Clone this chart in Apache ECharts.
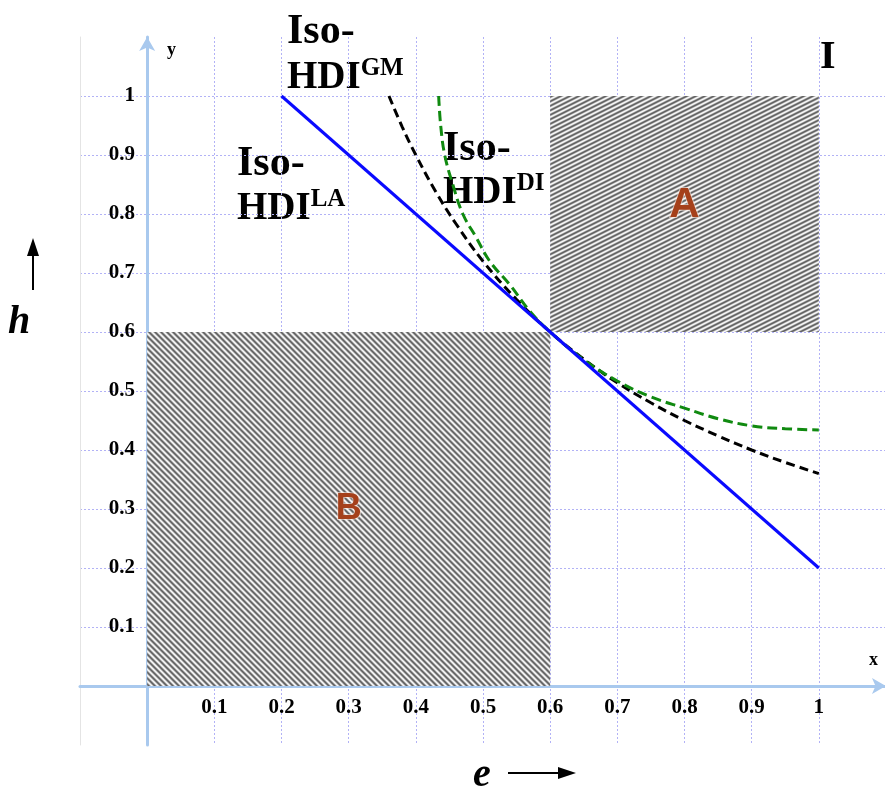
<!DOCTYPE html>
<html>
<head>
<meta charset="utf-8">
<script src="https://cdn.jsdelivr.net/npm/echarts@6/dist/echarts.min.js"></script>
<style>
html,body{margin:0;padding:0;background:#fff;}
#chart{width:885px;height:791px;}
</style>
</head>
<body>
<div id="chart"></div>
<script>
// ---- data ----
const tickLabels = ['0.1','0.2','0.3','0.4','0.5','0.6','0.7','0.8','0.9','1'];
const laE = [0.2, 1.0];
const laH = [1.0, 0.2];
const gmE = [0.36,0.38,0.40,0.43,0.46,0.50,0.55,0.60,0.65,0.70,0.75,0.80,0.85,0.90,0.95,1.00];
const gmH = [1.00,0.947,0.90,0.837,0.783,0.72,0.655,0.60,0.554,0.514,0.48,0.45,0.424,0.40,0.379,0.36];
const diE = [0.434,0.437,0.443,0.455,0.47,0.49,0.51,0.54,0.57,0.60,0.65,0.70,0.75,0.80,0.85,0.90,0.95,1.00];
const diH = [1.00,0.95,0.90,0.85,0.80,0.76,0.72,0.68,0.635,0.60,0.553,0.517,0.49,0.471,0.453,0.441,0.436,0.434];
const regionNames = ['A','B'];
const regionLo = [[0.6,0.6],[0,0]];
const regionHi = [[1,1],[0.6,0.6]];

function zip(a,b){return a.map((v,i)=>[v,b[i]]);}

function makePattern(w,h,fn){
  const c=document.createElement('canvas');c.width=w;c.height=h;
  const ctx=c.getContext('2d');const img=ctx.createImageData(w,h);
  for(let y=0;y<h;y++)for(let x=0;x<w;x++){
    const v=fn(x,y);const g=Math.round(95+155*v);
    const i=(y*w+x)*4;img.data[i]=g;img.data[i+1]=g;img.data[i+2]=g;img.data[i+3]=255;
  }
  ctx.putImageData(img,0,0);return c;
}
const patA = makePattern(18,9,(x,y)=>0.5+0.5*Math.cos(2*Math.PI*(x/9+y/4.5)));
const patB = makePattern(12,12,(x,y)=>0.5+0.5*Math.cos(2*Math.PI*(x-y)/6));
const patterns=[patA,patB];

const axisBlue='#a9c9ee';
const gridCol='#b2b2f6';
const serif='"Liberation Serif","Times New Roman",serif';

function fmt(v){
  const r=Math.round(v*10);
  if(r<1||r>10) return '';
  return tickLabels[r-1];
}

const supRich=()=>({m:{font:'bold 39px '+serif,fill:'#000',lineHeight:44},s:{font:'bold 25px '+serif,fill:'#000',verticalAlign:'top',lineHeight:30}});

const chart=echarts.init(document.getElementById('chart'));
const option={
  animation:false,
  backgroundColor:'#fff',
  grid:{left:80,right:-1,top:37,bottom:46,containLabel:false,outerBoundsMode:'none'},
  xAxis:{
    type:'value',min:-0.1,max:1.1,interval:0.1,
    axisLine:{onZero:true,symbol:['none','arrow'],symbolSize:[12,14],lineStyle:{color:axisBlue,width:3}},
    axisTick:{show:false},
    axisLabel:{formatter:fmt,fontFamily:serif,fontWeight:'bold',fontSize:21,color:'#000',margin:-48},
    splitLine:{show:true,showMinLine:false,showMaxLine:false,lineStyle:{color:gridCol,type:[2,2],width:1}}
  },
  yAxis:[{
    type:'value',min:-0.1,max:1.1,interval:0.1,
    axisLine:{onZero:true,symbol:['none','arrow'],symbolSize:[12,14],lineStyle:{color:axisBlue,width:3}},
    axisTick:{show:false},
    axisLabel:{formatter:fmt,fontFamily:serif,fontWeight:'bold',fontSize:21,color:'#000',margin:-55},
    splitLine:{show:true,showMinLine:false,showMaxLine:false,lineStyle:{color:gridCol,type:[2,2],width:1}}
  },{
    type:'value',min:-0.1,max:1.1,position:'left',
    axisLine:{show:true,onZero:false,lineStyle:{color:'#e4e4e4',width:1}},
    axisTick:{show:false},axisLabel:{show:false},splitLine:{show:false}
  }],
  series:[
    {
      type:'line',name:'regions',data:[],silent:true,
      markArea:{
        silent:true,z:1,
        data:regionNames.map((n,i)=>[
          {name:n,coord:regionLo[i],itemStyle:{color:{image:patterns[i],repeat:'repeat'}},
           label:{offset:i===0?[0,-9]:[0,0],fontSize:i===0?42:36}},
          {coord:regionHi[i]}
        ]),
        label:{show:true,position:'inside',color:'#a5401a',fontWeight:'bold',
          fontFamily:'"Liberation Sans",Arial,sans-serif',
          textBorderColor:'rgba(255,235,225,0.6)',textBorderWidth:2}
      }
    },
    {type:'line',name:'LA',data:zip(laE,laH),symbol:'none',z:5,
     lineStyle:{color:'#0a0aff',width:3}},
    {type:'line',name:'GM',data:zip(gmE,gmH),symbol:'none',smooth:0.4,z:4,
     lineStyle:{color:'#000',width:3,type:[9,5]}},
    {type:'line',name:'DI',data:zip(diE,diH),symbol:'none',smooth:0.4,z:4,
     lineStyle:{color:'#108a10',width:3,type:[10,5]}}
  ],
  graphic:[
    {type:'text',left:287,top:11,style:{text:'Iso-',font:'bold 42px '+serif,fill:'#000'}},
    {type:'text',left:287,top:56,style:{text:'{m|HDI}{s|GM}',rich:supRich()}},
    {type:'text',left:237,top:143,style:{text:'Iso-',font:'bold 42px '+serif,fill:'#000'}},
    {type:'text',left:237,top:187,style:{text:'{m|HDI}{s|LA}',rich:supRich()}},
    {type:'text',left:443,top:128,style:{text:'Iso-',font:'bold 42px '+serif,fill:'#000'}},
    {type:'text',left:443,top:171,style:{text:'{m|HDI}{s|DI}',rich:supRich()}},
    {type:'text',left:820,top:38,style:{text:'I',font:'bold 40px '+serif,fill:'#000'}},
    {type:'text',left:869,top:651,style:{text:'x',font:'bold 18px '+serif,fill:'#000'}},
    {type:'text',left:167,top:41,style:{text:'y',font:'bold 18px '+serif,fill:'#000'}},
    {type:'text',left:8,top:303,style:{text:'h',font:'italic bold 40px '+serif,fill:'#000'}},
    {type:'line',shape:{x1:33,y1:290,x2:33,y2:250},style:{stroke:'#000',lineWidth:2}},
    {type:'polygon',shape:{points:[[27,256],[33,238],[39,256]]},style:{fill:'#000'}},
    {type:'text',left:473,top:756,style:{text:'e',font:'italic bold 40px '+serif,fill:'#000'}},
    {type:'line',shape:{x1:508,y1:773,x2:562,y2:773},style:{stroke:'#000',lineWidth:2}},
    {type:'polygon',shape:{points:[[558,767],[576,773],[558,779]]},style:{fill:'#000'}}
  ]
};
chart.setOption(option);
</script>
</body>
</html>
